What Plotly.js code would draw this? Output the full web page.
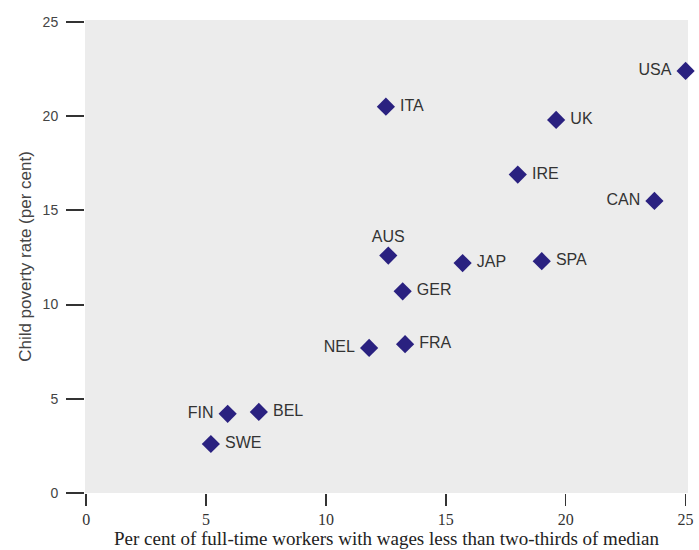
<!DOCTYPE html>
<html><head><meta charset="utf-8">
<script src="https://cdn.plot.ly/plotly-3.0.1.min.js"></script>
<style>body{margin:0;background:#fff}#chart{width:699px;height:550px}</style>
</head><body><div id="chart"></div>
<script>
const countries = ["USA","ITA","UK","IRE","CAN","AUS","JAP","SPA","GER","FRA","NEL","FIN","BEL","SWE"];
const lowWageShare = [25.0,12.5,19.6,18.0,23.7,12.6,15.7,19.0,13.2,13.3,11.8,5.9,7.2,5.2];
const childPoverty = [22.4,20.5,19.8,16.9,15.5,12.6,12.2,12.3,10.7,7.9,7.7,4.2,4.3,2.6];
const labelSide = ["middle left","middle right","middle right","middle right","middle left","top center","middle right","middle right","middle right","middle right","middle left","middle left","middle right","middle right"];
const xTicks = [0,5,10,15,20,25];
const yTicks = [0,5,10,15,20,25];

const pad = '\u00a0';
const labels = countries.map((c, i) => labelSide[i] === 'middle left' ? c + pad : (labelSide[i] === 'middle right' ? pad + c : c));

Plotly.newPlot('chart', [{
  type: 'scatter',
  mode: 'markers+text',
  x: lowWageShare,
  y: childPoverty,
  text: labels,
  textposition: labelSide,
  textfont: {family: 'Liberation Sans, Arial, sans-serif', size: 16, color: '#333'},
  marker: {symbol: 'diamond', size: 14, color: '#2a2180'},
  cliponaxis: false,
  hoverinfo: 'skip'
}], {
  width: 699, height: 550,
  margin: {l: 85, r: 11, t: 20, b: 57},
  paper_bgcolor: '#ffffff',
  plot_bgcolor: '#ececec',
  showlegend: false,
  font: {family: 'Liberation Sans, Arial, sans-serif', color: '#333'},
  xaxis: {
    range: [-0.05, 25.1],
    tickvals: xTicks,
    ticks: 'outside', ticklen: 12, tickwidth: 1.5, tickcolor: '#333',
    tickfont: {family: 'Liberation Serif, Times New Roman, serif', size: 16, color: '#333'},
    showgrid: false, zeroline: false, showline: false,
    title: {text: 'Per cent of full-time workers with wages less than two-thirds of median',
            font: {family: 'Liberation Serif, Times New Roman, serif', size: 19, color: '#222'}, standoff: 2}
  },
  yaxis: {
    range: [0, 25.1],
    tickvals: yTicks,
    ticks: 'outside', ticklen: 18, tickwidth: 2, tickcolor: '#333',
    ticklabelstandoff: 5,
    tickfont: {family: 'Liberation Sans, Arial, sans-serif', size: 14, color: '#444'},
    showgrid: false, zeroline: false, showline: false,
    title: {text: 'Child poverty rate (per cent)', font: {family: 'Liberation Sans, Arial, sans-serif', size: 17, color: '#444'}, standoff: 6}
  }
}, {staticPlot: true});
</script></body></html>
